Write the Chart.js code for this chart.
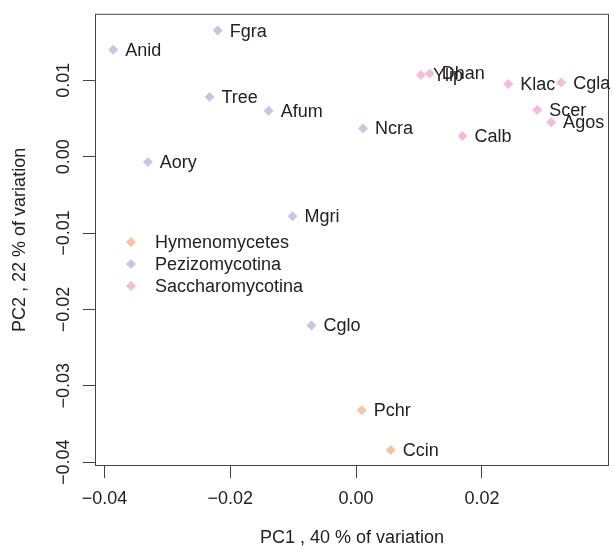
<!DOCTYPE html>
<html>
<head>
<meta charset="utf-8">
<script src="https://cdn.jsdelivr.net/npm/chart.js@4.4.0/dist/chart.umd.min.js"></script>
<style>
  body { margin: 0; background: #fff; }
  #wrap { width: 614px; height: 552px; }
</style>
</head>
<body>
<div id="wrap"><canvas id="pca" width="614" height="552"></canvas></div>
<script>
// groups and colours
const groups = ['Hymenomycetes', 'Pezizomycotina', 'Saccharomycotina'];
const groupColors = ['#f8c3a3', '#c3cae0', '#f1bddb'];

// PC1 / PC2 scores per species
const hymNames = ['Pchr', 'Ccin'];
const hymPC1 = [0.0009, 0.0055];
const hymPC2 = [-0.0332, -0.0384];

const pezNames = ['Anid', 'Fgra', 'Tree', 'Afum', 'Ncra', 'Aory', 'Mgri', 'Cglo'];
const pezPC1 = [-0.0386, -0.0220, -0.0233, -0.0139, 0.0011, -0.0331, -0.0101, -0.0071];
const pezPC2 = [0.0140, 0.0165, 0.0078, 0.0060, 0.0037, -0.0007, -0.0078, -0.0221];

const sacNames = ['Ylip', 'Dhan', 'Klac', 'Cgla', 'Scer', 'Agos', 'Calb'];
const sacPC1 = [0.0103, 0.0117, 0.0242, 0.0326, 0.0288, 0.0310, 0.0169];
const sacPC2 = [0.0107, 0.0109, 0.0095, 0.0097, 0.0061, 0.0045, 0.0027];

const xTicks = [-0.04, -0.02, 0, 0.02];
const yTicks = [-0.04, -0.03, -0.02, -0.01, 0, 0.01];

const FONT = '"Liberation Sans", Arial, sans-serif';
const fmt = v => (v < 0 ? '\u2212' : '') + Math.abs(v).toFixed(2);

function series(label, names, xs, ys, color) {
    return {
        label: label,
        names: names,
        data: xs.map((x, i) => ({ x: x, y: ys[i] })),
        pointStyle: 'rectRot',
        pointRadius: 5,
        pointBackgroundColor: color,
        pointBorderWidth: 0,
        showLine: false
    };
}

// box, point labels, legend and rotated y tick labels
const extras = {
    id: 'extras',
    afterDatasetsDraw(chart) {
        const ctx = chart.ctx;
        const a = chart.chartArea;
        ctx.save();
        ctx.strokeStyle = '#444';
        ctx.lineWidth = 1;
        ctx.strokeRect(a.left + 0.5, a.top + 0.5, a.right - a.left - 1, a.bottom - a.top - 1);

        ctx.font = '18px ' + FONT;
        ctx.fillStyle = '#222';
        ctx.textBaseline = 'middle';
        ctx.textAlign = 'left';
        chart.data.datasets.forEach((ds, i) => {
            chart.getDatasetMeta(i).data.forEach((pt, j) => {
                ctx.fillText(ds.names[j], pt.x + 12, pt.y + 1);
            });
        });

        // legend
        groups.forEach((g, i) => {
            const ly = 242 + i * 22;
            ctx.fillStyle = groupColors[i];
            ctx.beginPath();
            ctx.moveTo(131, ly - 5);
            ctx.lineTo(136, ly);
            ctx.lineTo(131, ly + 5);
            ctx.lineTo(126, ly);
            ctx.closePath();
            ctx.fill();
            ctx.fillStyle = '#222';
            ctx.fillText(g, 155, ly + 1);
        });

        // y tick labels, rotated like R's default
        const ys = chart.scales.y;
        ctx.textAlign = 'center';
        yTicks.forEach(v => {
            ctx.save();
            ctx.translate(64, ys.getPixelForValue(v));
            ctx.rotate(-Math.PI / 2);
            ctx.fillText(fmt(v), 0, 0);
            ctx.restore();
        });
        ctx.restore();
    }
};

new Chart(document.getElementById('pca'), {
    type: 'scatter',
    data: {
        datasets: [
            series(groups[0], hymNames, hymPC1, hymPC2, groupColors[0]),
            series(groups[1], pezNames, pezPC1, pezPC2, groupColors[1]),
            series(groups[2], sacNames, sacPC1, sacPC2, groupColors[2])
        ]
    },
    options: {
        responsive: false,
        animation: false,
        layout: { padding: { top: 12, right: 3, left: 0, bottom: 0 } },
        plugins: {
            legend: { display: false },
            tooltip: { enabled: false }
        },
        scales: {
            x: {
                type: 'linear',
                min: -0.0415,
                max: 0.0402,
                afterBuildTicks: s => { s.ticks = xTicks.map(v => ({ value: v })); },
                afterFit: s => { s.height = 86; },
                border: { display: false },
                grid: { drawOnChartArea: false, drawTicks: true, tickLength: 12, color: '#444' },
                ticks: {
                    padding: 10,
                    color: '#222',
                    maxRotation: 0,
                    font: { family: FONT, size: 18 },
                    callback: v => fmt(v)
                },
                title: {
                    display: true,
                    text: 'PC1 , 40 % of variation',
                    color: '#222',
                    font: { family: FONT, size: 18 },
                    padding: { top: 0, bottom: 3 }
                }
            },
            y: {
                type: 'linear',
                min: -0.0405,
                max: 0.0187,
                afterBuildTicks: s => { s.ticks = yTicks.map(v => ({ value: v })); },
                afterFit: s => { s.width = 95; },
                border: { display: false },
                grid: { drawOnChartArea: false, drawTicks: true, tickLength: 12, color: '#444' },
                ticks: {
                    color: 'rgba(0,0,0,0)',
                    font: { family: FONT, size: 18 },
                    callback: v => fmt(v)
                },
                title: {
                    display: true,
                    text: 'PC2 , 22 % of variation',
                    color: '#222',
                    font: { family: FONT, size: 18 },
                    padding: { top: 9, bottom: 0 }
                }
            }
        }
    },
    plugins: [extras]
});
</script>
</body>
</html>
